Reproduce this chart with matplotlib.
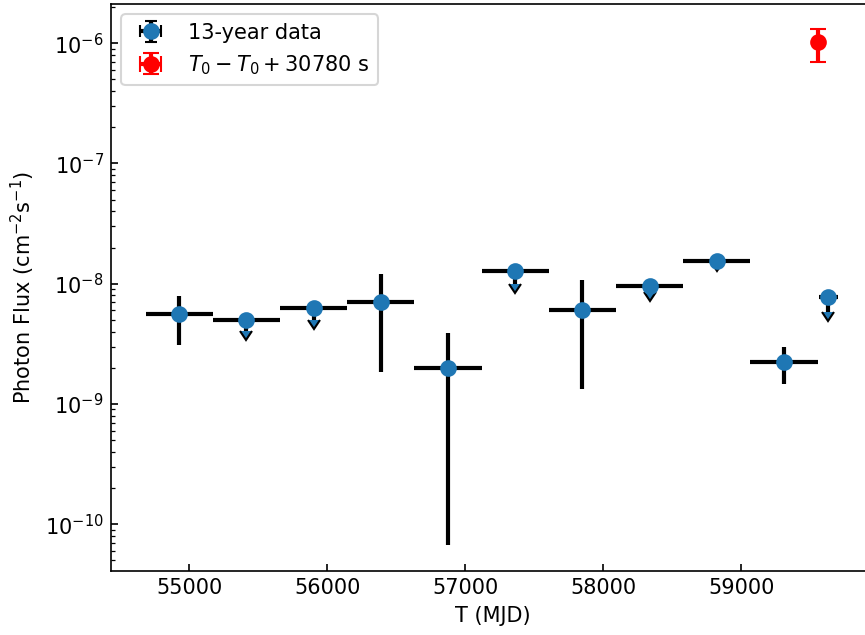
import numpy as np
import matplotlib
matplotlib.use("Agg")
import matplotlib.pyplot as plt

# 13-year light curve (bins of ~487 d, last one shorter)
t_mjd = [54926, 55413, 55900, 56387, 56874, 57361, 57848, 58335, 58822, 59309, 59630]
t_half = [243.5, 243.5, 243.5, 243.5, 243.5, 243.5, 243.5, 243.5, 243.5, 243.5, 70]
flux = [5.57e-9, 5.0e-9, 6.33e-9, 7.02e-9, 1.98e-9, 1.28e-8, 6.1e-9, 9.53e-9, 1.54e-8, 2.24e-9, 7.82e-9]
flux_lo = [3.08e-9, 4.05e-9, 5.0e-9, 1.86e-9, 6.76e-11, 9.9e-9, 1.33e-9, 8.49e-9, 1.51e-8, 1.47e-9, 5.83e-9]
flux_hi = [7.92e-9, 5.0e-9, 6.33e-9, 1.2e-8, 3.87e-9, 1.28e-8, 1.08e-8, 9.53e-9, 1.54e-8, 3.0e-9, 7.82e-9]
is_ul = [False, True, True, False, False, True, False, True, True, False, True]

# short interval after T0
t_red = [59556]
t_red_half = [0.18]
flux_red = [1.02e-6]
flux_red_lo = [6.98e-7]
flux_red_hi = [1.31e-6]

flux = np.array(flux)
yerr = [flux - np.array(flux_lo), np.array(flux_hi) - flux]
fr = np.array(flux_red)
yerr_red = [fr - np.array(flux_red_lo), np.array(flux_red_hi) - fr]

fig = plt.figure(figsize=(865 / 150, 635 / 150), dpi=150)
ax = fig.add_axes([0.1283, 0.1013, 0.882, 0.8924])

ax.errorbar(t_mjd, flux, xerr=t_half, yerr=yerr, uplims=is_ul,
            fmt='o', color='C0', ecolor='k', elinewidth=2, ms=7,
            label='13-year data')
ax.errorbar(t_red, fr, xerr=t_red_half, yerr=yerr_red,
            fmt='o', color='red', ecolor='red', elinewidth=2, ms=7,
            capsize=4, label=r'$T_0-T_0+30780$ s')

ax.set_yscale('log')
ax.set_xlim(54431, 59961)
ax.set_ylim(4.11e-11, 2.12e-6)
ax.tick_params(which='both', direction='in')
ax.set_xlabel('T (MJD)')
ax.set_ylabel(r'Photon Flux (cm$^{-2}$s$^{-1}$)')
ax.legend(loc='upper left')

fig.savefig('out.png', dpi=150)
